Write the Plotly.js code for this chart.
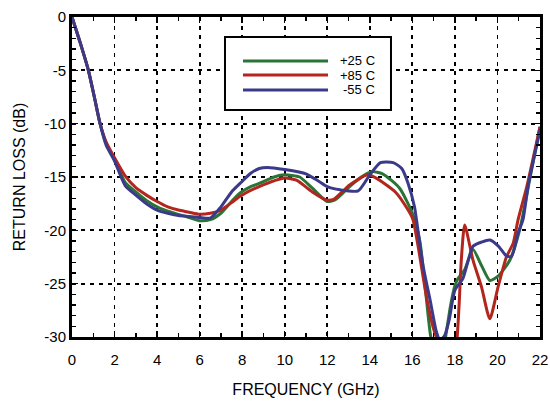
<!DOCTYPE html>
<html>
<head>
<meta charset="utf-8">
<script src="https://cdn.plot.ly/plotly-3.0.1.min.js"></script>
<style>html,body{margin:0;padding:0;background:#fff;}#chart{width:550px;height:402px;}</style>
</head>
<body>
<div id="chart"></div>
<script>
// Frequency (GHz) and return loss (dB) for each temperature
const freq25 = [0, 0.4, 0.77, 1.05, 1.32, 1.6, 2.0, 2.5, 3, 3.5, 4, 4.5, 5, 5.5, 6, 6.5, 7, 7.5, 7.9, 8.4, 8.8, 9.5, 10, 10.7, 11.3, 12, 12.4, 13.05, 13.6, 14.1, 14.6, 15.4, 16.0, 16.35, 16.6, 16.85, 17.0, 17.4, 17.6, 17.8, 18.0, 18.15, 18.46, 18.85, 19.25, 19.64, 20.03, 20.58, 21.05, 21.54, 22];
const rl25 = [0, -2.5, -5, -7.5, -10, -11.8, -13.4, -15.5, -16.4, -17.2, -17.8, -18.2, -18.5, -18.8, -19.1, -19.0, -18.4, -17.3, -16.5, -15.9, -15.6, -15.0, -14.8, -15.0, -16.05, -17.3, -17.1, -15.9, -15.0, -14.5, -14.7, -16.05, -18.4, -21.0, -25.3, -29.8, -31, -31.5, -29.5, -27, -25.2, -24.5, -23.7, -21.8, -23.3, -24.7, -24.3, -22.8, -19.9, -15, -10.3];

const freq85 = [0, 0.4, 0.77, 1.05, 1.32, 1.6, 2.0, 2.5, 3, 3.5, 4, 4.5, 5, 5.5, 6, 6.5, 7, 7.5, 7.9, 8.8, 10, 10.55, 11.3, 11.95, 12.3, 13.05, 13.9, 14.3, 15.2, 15.8, 16.03, 16.27, 16.66, 16.97, 17.16, 17.5, 18.0, 18.1, 18.2, 18.3, 18.46, 18.85, 19.25, 19.64, 20.03, 20.42, 20.74, 20.97, 21.38, 22];
const rl85 = [0, -2.5, -5, -7.5, -10, -11.7, -13.2, -14.9, -16.0, -16.7, -17.3, -17.8, -18.1, -18.3, -18.5, -18.4, -18.1, -17.4, -16.8, -15.9, -15.1, -15.3, -16.4, -17.15, -17.1, -15.75, -14.8, -15.1, -16.4, -18.1, -19, -21.5, -26.2, -29.05, -30.2, -32, -32, -30.2, -26.9, -22.8, -19.5, -22.8, -25.3, -28.3, -25.3, -22.5, -21.2, -19, -15.9, -10.3];

const freq55 = [0, 0.4, 0.77, 1.05, 1.32, 1.6, 2.0, 2.5, 3, 3.5, 4, 4.5, 5, 5.5, 6, 6.5, 7, 7.5, 7.9, 8.4, 8.8, 9.2, 10, 11, 11.6, 12, 12.6, 13.45, 14, 14.5, 15.1, 15.5, 15.8, 16.1, 16.2, 16.5, 16.83, 17.13, 17.3, 17.52, 17.73, 18.0, 18.38, 18.85, 19.25, 19.64, 20.03, 20.42, 20.66, 20.97, 21.2, 21.46, 21.93, 22];
const rl55 = [0, -2.5, -5, -7.5, -10, -12.0, -13.5, -15.8, -16.7, -17.5, -18.1, -18.4, -18.6, -18.7, -18.8, -18.85, -17.8, -16.4, -15.6, -14.65, -14.2, -14.1, -14.3, -14.7, -15.4, -15.9, -16.2, -16.3, -14.8, -13.65, -13.65, -14.2, -15.6, -17.8, -19.1, -23.3, -26.5, -29.5, -30.3, -29.85, -28.4, -25.6, -24.5, -21.5, -21.1, -20.9, -21.45, -22.4, -22.45, -20.25, -19, -15.6, -11.25, -10.5];

const seriesNames = ['+25 C', '+85 C', '-55 C'];
const seriesColors = ['#2a7438', '#b3261e', '#3b3a8a'];
const xTickVals = [0, 2, 4, 6, 8, 10, 12, 14, 16, 18, 20, 22];
const yTickVals = [0, -5, -10, -15, -20, -25, -30];

const FONT = 'Liberation Sans, Arial, Helvetica, sans-serif';

const xs = [freq25, freq85, freq55];
const ys = [rl25, rl85, rl55];
const traces = xs.map((x, i) => ({
  type: 'scatter', mode: 'lines', x: x, y: ys[i], name: seriesNames[i],
  line: {color: seriesColors[i], width: 3, shape: 'spline', smoothing: 0.6},
  showlegend: false
}));

// manual legend (box, sample lines, labels) in paper coordinates
const legLineY = [0.8625, 0.81875, 0.7719];
const shapes = [{
  type: 'rect', xref: 'paper', yref: 'paper', x0: 0.3269, x1: 0.6816, y0: 0.709, y1: 0.9375,
  line: {color: '#000', width: 2}, fillcolor: '#fff', layer: 'above'
}];
const annotations = [];
seriesNames.forEach((n, i) => {
  shapes.push({type: 'line', xref: 'paper', yref: 'paper', x0: 0.3654, x1: 0.547, y0: legLineY[i], y1: legLineY[i],
    line: {color: seriesColors[i], width: 3}, layer: 'above'});
  annotations.push({xref: 'paper', yref: 'paper', x: 0.65, y: legLineY[i], xanchor: 'right', yanchor: 'middle',
    text: n, showarrow: false, borderpad: 0, font: {family: FONT, size: 13, color: '#000'}});
});

const axisCommon = {
  showline: true, linecolor: '#000', linewidth: 3, mirror: 'allticks',
  ticks: 'inside', ticklen: 6, tickwidth: 1.5, tickcolor: '#000',
  showgrid: true, gridcolor: '#000', gridwidth: 1.8, griddash: '4px,5px',
  zeroline: false, tickfont: {family: FONT, size: 15, color: '#000'},
  minor: {dtick: 1, ticks: 'inside', ticklen: 4, tickwidth: 1.5, tickcolor: '#000', showgrid: false}
};

const layout = {
  width: 550, height: 402,
  margin: {l: 72, r: 10, t: 17, b: 65},
  paper_bgcolor: '#fff', plot_bgcolor: '#fff',
  font: {family: FONT, color: '#000'},
  xaxis: Object.assign({}, axisCommon, {
    range: [0, 22], tickvals: xTickVals, ticktext: xTickVals.map(String), ticklabelstandoff: 7,
    title: {text: 'FREQUENCY (GHz)', font: {family: FONT, size: 16, color: '#000'}, standoff: 17}
  }),
  yaxis: Object.assign({}, axisCommon, {
    range: [-30, 0], tickvals: yTickVals, ticktext: yTickVals.map(String),
    title: {text: 'RETURN LOSS (dB)', font: {family: FONT, size: 16, color: '#000'}, standoff: 15}
  }),
  shapes: shapes, annotations: annotations, showlegend: false
};

Plotly.newPlot('chart', traces, layout, {displayModeBar: false, staticPlot: true});
</script>
</body>
</html>
